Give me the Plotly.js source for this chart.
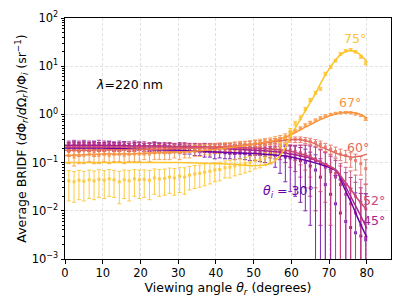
<!DOCTYPE html>
<html><head><meta charset="utf-8">
<script src="https://cdn.plot.ly/plotly-3.0.1.min.js"></script>
<style>body{margin:0;background:#fff}#c{width:407px;height:307px}</style>
</head><body><div id="c"></div>
<script>
// Viewing angles (degrees)
const angles = [1,2.4,3.7,5,6.4,7.7,9,10.4,11.7,13,14.4,15.7,17,18.4,19.7,21,22.4,23.7,25,26.4,27.7,29,30.4,31.7,33,34.4,35.7,37,38.4,39.7,41,42.4,43.7,45,46.4,47.7,49,50.4,51.7,53,54.4,55.7,57,58.4,59.7,61,62.4,63.7,65,66.4,67.7,69,70.4,71.7,73,74.4,75.7,77,78.4,79.7];
const fitAngles = [0,5,10,15,20,25,30,35,40,45,50,55,58,60,62,64,66,68,70,72,74,76,78,80];

const incident = [30,45,52,60,67,75];
const colors = ['#6a00a8','#a8228f','#cc4778','#e56a5d','#f89540','#fdc328'];

const v30 = [0.22,0.23,0.22,0.23,0.22,0.23,0.22,0.22,0.23,0.22,0.22,0.23,0.21,0.22,0.22,0.21,0.21,0.22,0.21,0.2,0.21,0.2,0.2,0.19,0.19,0.18,0.18,0.17,0.17,0.16,0.165,0.16,0.16,0.155,0.16,0.155,0.15,0.155,0.15,0.15,0.145,0.14,0.14,0.13,0.125,0.12,0.11,0.1,0.085,0.07,0.05,0.035,0.022,0.014,0.009,0.006,0.0045,0.0035,0.003,0.0025];
const e30 = [0.04,0.04,0.04,0.04,0.04,0.04,0.04,0.04,0.04,0.04,0.04,0.04,0.04,0.04,0.04,0.04,0.04,0.04,0.04,0.04,0.04,0.04,0.04,0.04,0.04,0.04,0.04,0.04,0.04,0.04,0.04,0.04,0.04,0.04,0.04,0.04,0.04,0.045,0.045,0.05,0.05,0.06,0.08,0.09,0.1,0.1,0.095,0.09,0.08,0.075,0.07,0.06,0.05,0.04,0.035,0.03,0.025,0.02,0.02,0.02];
const v45 = [0.24,0.25,0.24,0.25,0.24,0.24,0.25,0.24,0.24,0.23,0.24,0.23,0.23,0.24,0.23,0.23,0.22,0.23,0.22,0.22,0.22,0.21,0.22,0.21,0.21,0.21,0.2,0.21,0.2,0.2,0.2,0.2,0.19,0.19,0.19,0.19,0.18,0.18,0.18,0.18,0.17,0.17,0.165,0.16,0.15,0.145,0.14,0.13,0.12,0.11,0.095,0.08,0.065,0.05,0.035,0.022,0.014,0.009,0.005,0.0028];
const e45 = [0.04,0.04,0.04,0.04,0.04,0.04,0.04,0.04,0.04,0.04,0.04,0.04,0.04,0.04,0.04,0.04,0.04,0.04,0.04,0.04,0.04,0.04,0.04,0.04,0.04,0.04,0.04,0.04,0.04,0.04,0.04,0.04,0.04,0.04,0.04,0.04,0.04,0.04,0.04,0.045,0.045,0.05,0.05,0.06,0.07,0.08,0.09,0.1,0.1,0.1,0.09,0.08,0.07,0.06,0.05,0.04,0.035,0.03,0.025,0.02];
const v52 = [0.21,0.22,0.21,0.22,0.21,0.22,0.21,0.21,0.22,0.21,0.21,0.22,0.21,0.21,0.22,0.21,0.21,0.21,0.22,0.21,0.21,0.21,0.21,0.22,0.21,0.21,0.21,0.21,0.21,0.21,0.21,0.21,0.21,0.2,0.21,0.2,0.2,0.2,0.2,0.2,0.2,0.2,0.19,0.19,0.18,0.17,0.16,0.15,0.14,0.12,0.105,0.09,0.075,0.06,0.045,0.035,0.027,0.02,0.015,0.011];
const e52 = [0.04,0.04,0.04,0.04,0.04,0.04,0.04,0.04,0.04,0.04,0.04,0.04,0.04,0.04,0.04,0.04,0.04,0.04,0.04,0.04,0.04,0.04,0.04,0.04,0.04,0.04,0.04,0.04,0.04,0.04,0.04,0.04,0.04,0.04,0.04,0.04,0.04,0.04,0.04,0.04,0.045,0.045,0.05,0.05,0.055,0.06,0.07,0.08,0.09,0.09,0.08,0.075,0.07,0.06,0.05,0.045,0.04,0.035,0.03,0.025];
const v60 = [0.17,0.18,0.17,0.18,0.18,0.17,0.18,0.18,0.19,0.18,0.18,0.19,0.18,0.19,0.19,0.18,0.19,0.19,0.2,0.19,0.19,0.2,0.19,0.2,0.2,0.2,0.21,0.2,0.21,0.21,0.22,0.22,0.22,0.23,0.23,0.24,0.24,0.25,0.25,0.26,0.27,0.28,0.29,0.3,0.3,0.3,0.3,0.29,0.28,0.26,0.24,0.21,0.19,0.17,0.15,0.14,0.12,0.11,0.095,0.075];
const e60 = [0.035,0.035,0.035,0.035,0.035,0.035,0.035,0.035,0.035,0.035,0.035,0.035,0.035,0.035,0.035,0.035,0.035,0.035,0.035,0.035,0.035,0.035,0.035,0.035,0.035,0.035,0.035,0.035,0.035,0.035,0.035,0.035,0.035,0.035,0.035,0.035,0.035,0.035,0.035,0.035,0.035,0.035,0.035,0.035,0.035,0.04,0.04,0.04,0.04,0.04,0.04,0.04,0.04,0.04,0.04,0.04,0.04,0.04,0.04,0.04];
const v67 = [0.14,0.13,0.14,0.14,0.15,0.14,0.14,0.15,0.14,0.15,0.15,0.14,0.15,0.15,0.15,0.16,0.15,0.16,0.16,0.16,0.16,0.17,0.16,0.17,0.17,0.18,0.18,0.19,0.19,0.2,0.2,0.21,0.21,0.22,0.23,0.23,0.24,0.25,0.26,0.27,0.28,0.3,0.32,0.35,0.4,0.46,0.52,0.6,0.68,0.76,0.85,0.93,1.0,1.05,1.08,1.1,1.08,1.02,0.95,0.8];
const e67 = [0.045,0.045,0.045,0.045,0.045,0.045,0.045,0.045,0.045,0.045,0.045,0.045,0.045,0.045,0.045,0.045,0.045,0.045,0.045,0.045,0.045,0.045,0.045,0.045,0.045,0.045,0.045,0.045,0.045,0.045,0.045,0.045,0.045,0.045,0.045,0.045,0.045,0.045,0.045,0.045,0.045,0.045,0.045,0.045,0.045,0.03,0.03,0.035,0.04,0.04,0.045,0.05,0.05,0.05,0.05,0.05,0.05,0.05,0.05,0.05];
const v75 = [0.042,0.04,0.043,0.041,0.044,0.042,0.045,0.043,0.046,0.044,0.04,0.044,0.042,0.046,0.044,0.045,0.043,0.048,0.046,0.047,0.05,0.048,0.052,0.05,0.055,0.058,0.06,0.063,0.066,0.07,0.072,0.078,0.08,0.085,0.09,0.095,0.1,0.11,0.115,0.125,0.14,0.16,0.22,0.3,0.45,0.65,0.85,1.3,2.0,2.8,3.4,7.0,9.6,13,18,21,22,20,15.5,11.5];
const e75 = [0.026,0.025,0.026,0.025,0.026,0.025,0.026,0.025,0.026,0.025,0.026,0.026,0.026,0.026,0.026,0.026,0.026,0.026,0.026,0.026,0.027,0.027,0.028,0.028,0.028,0.029,0.029,0.03,0.03,0.03,0.03,0.03,0.032,0.032,0.033,0.034,0.035,0.036,0.037,0.038,0.04,0.04,0.04,0.05,0.06,0.07,0.08,0.1,0.15,0.2,0.25,0.5,0.6,0.8,1,1.2,1.2,1.2,1,0.9];

const f30 = [0.2,0.2,0.2,0.195,0.19,0.185,0.18,0.172,0.165,0.16,0.155,0.145,0.138,0.13,0.12,0.11,0.1,0.09,0.08,0.066,0.03,0.014,0.006,0.0028];
const f45 = [0.23,0.23,0.23,0.225,0.22,0.22,0.215,0.21,0.2,0.19,0.18,0.17,0.16,0.15,0.14,0.13,0.115,0.1,0.085,0.068,0.036,0.018,0.009,0.0043];
const f52 = [0.21,0.21,0.21,0.21,0.21,0.21,0.21,0.21,0.21,0.205,0.2,0.19,0.18,0.17,0.155,0.14,0.12,0.1,0.085,0.068,0.042,0.026,0.016,0.0105];
const f60 = [0.18,0.18,0.185,0.185,0.19,0.19,0.195,0.2,0.21,0.22,0.24,0.27,0.29,0.3,0.3,0.28,0.25,0.21,0.18,0.155,0.14,0.13,0.135,0.15];
const f67 = [0.14,0.145,0.15,0.15,0.155,0.16,0.165,0.175,0.19,0.21,0.24,0.28,0.33,0.38,0.46,0.56,0.67,0.8,0.93,1.03,1.09,1.1,1.02,0.85];
const f75 = [0.1,0.1,0.1,0.1,0.1,0.1,0.1,0.098,0.095,0.092,0.086,0.1,0.18,0.38,0.7,1.3,2.4,4.8,8.8,14.5,19.5,21,18,12.5];

const yTickVals = [1e-3,1e-2,1e-1,1,10,100];
const yTickText = ['10<sup>−3</sup>','10<sup>−2</sup>','10<sup>−1</sup>','10<sup>0</sup>','10<sup>1</sup>','10<sup>2</sup>'];
const xTickVals = [0,10,20,30,40,50,60,70,80];

const vals = [v30,v45,v52,v60,v67,v75];
const errs = [e30,e45,e52,e60,e67,e75];
const fits = [f30,f45,f52,f60,f67,f75];

const traces = [];
for (let i = 0; i < incident.length; i++) {
  traces.push({
    x: angles, y: vals[i], type: 'scatter', mode: 'markers',
    marker: {symbol: 'square', size: 3, color: colors[i]},
    error_y: {type: 'data', array: errs[i], color: colors[i], thickness: 1, width: 2},
    opacity: 0.85, showlegend: false, hoverinfo: 'skip'
  });
}
for (let i = 0; i < incident.length; i++) {
  traces.push({
    x: fitAngles, y: fits[i], type: 'scatter', mode: 'lines',
    line: {color: colors[i], width: 1.5, shape: 'spline', smoothing: 0.8},
    showlegend: false, hoverinfo: 'skip'
  });
}

const font = {family: 'DejaVu Sans', size: 11.5, color: '#000'};
const ann = (x, y, text, color, size) => ({xref:'paper', yref:'paper', x, y, text, showarrow:false,
  font:{family:'DejaVu Sans', size: size||11, color}, xanchor:'center', yanchor:'middle'});

// paper coords: plot x 65..391 (w 326), y 18..259 (h 241)
const px = X => (X - 65) / 326;
const py = Y => (259 - Y) / 241;

const layout = {
  width: 407, height: 307,
  margin: {l: 65, r: 16, t: 18, b: 48},
  paper_bgcolor: '#fff', plot_bgcolor: '#fff',
  font: font,
  xaxis: {
    range: [0, 86.4], tickvals: xTickVals, ticks: 'outside', ticklen: 3.5, tickcolor: '#000',
    showline: true, mirror: true, linecolor: '#000', linewidth: 1,
    showgrid: true, gridcolor: '#d9d9d9', griddash: '3px,2px', gridwidth: 0.8, zeroline: false,
    tickfont: {family: 'DejaVu Sans', size: 11.5, color: '#000'},
    title: {text: 'Viewing angle <i>θ<sub>r</sub></i> (degrees)', font: {family: 'DejaVu Sans', size: 12.5, color: '#000'}, standoff: 3}
  },
  yaxis: {
    type: 'log', range: [-3, 2], tickvals: yTickVals, ticktext: yTickText,
    ticks: 'outside', ticklen: 3.5, tickcolor: '#000',
    minor: {ticks: 'outside', ticklen: 2, tickcolor: '#000', dtick: 'D1', showgrid: false},
    showline: true, mirror: true, linecolor: '#000', linewidth: 1,
    showgrid: true, gridcolor: '#d9d9d9', griddash: '3px,2px', gridwidth: 0.8, zeroline: false,
    tickfont: {family: 'DejaVu Sans', size: 11.5, color: '#000'},
    title: {text: 'Average BRIDF (<i>d</i>Φ<sub><i>r</i></sub>/<i>d</i>Ω<sub><i>r</i></sub>)/Φ<sub><i>i</i></sub> (sr<sup>−1</sup>)', font: {family: 'DejaVu Sans', size: 12.5, color: '#000'}, standoff: 2}
  },
  annotations: [
    ann(px(129), py(84), '<i>λ</i>=220 nm', '#000', 12.5),
    ann(px(355), py(38), '75°', colors[5], 12.5),
    ann(px(350), py(103), '67°', colors[4], 12.5),
    ann(px(358), py(147), '60°', colors[3], 12.5),
    ann(px(374), py(200), '52°', colors[2], 12.5),
    ann(px(374), py(220), '45°', colors[1], 12.5),
    ann(px(288), py(191), '<i>θ<sub>i</sub></i> = 30°', colors[0], 12.5)
  ]
};

Plotly.newPlot('c', traces, layout, {staticPlot: true, displayModeBar: false});
</script></body></html>
